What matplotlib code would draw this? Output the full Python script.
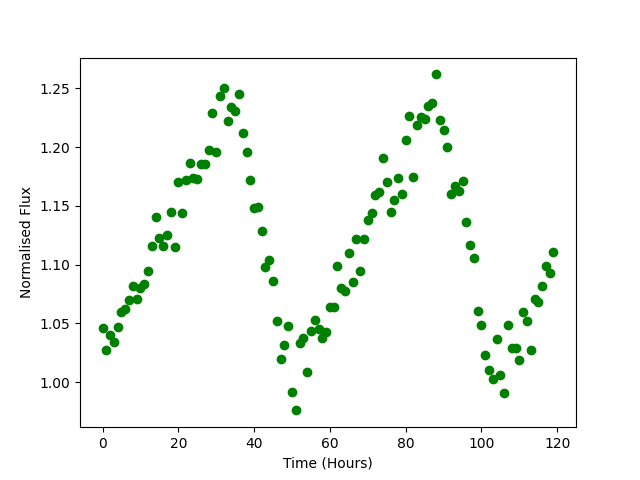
import numpy as np
import matplotlib
matplotlib.use("Agg")
import matplotlib.pyplot as plt

# hourly samples
time_hours = np.arange(120)

flux = [
    1.046, 1.027, 1.040, 1.034, 1.047, 1.060, 1.062, 1.070, 1.082, 1.071,
    1.080, 1.084, 1.095, 1.116, 1.141, 1.123, 1.116, 1.125, 1.145, 1.115,
    1.170, 1.144, 1.172, 1.187, 1.174, 1.173, 1.186, 1.186, 1.198, 1.229,
    1.196, 1.244, 1.250, 1.222, 1.234, 1.231, 1.245, 1.212, 1.196, 1.172,
    1.148, 1.149, 1.129, 1.098, 1.104, 1.086, 1.052, 1.020, 1.032, 1.048,
    0.992, 0.976, 1.033, 1.038, 1.009, 1.044, 1.053, 1.045, 1.038, 1.043,
    1.064, 1.064, 1.099, 1.080, 1.078, 1.110, 1.085, 1.122, 1.095, 1.122,
    1.138, 1.144, 1.159, 1.162, 1.191, 1.170, 1.145, 1.155, 1.174, 1.160,
    1.206, 1.227, 1.175, 1.219, 1.226, 1.224, 1.235, 1.238, 1.262, 1.223,
    1.215, 1.200, 1.160, 1.167, 1.163, 1.171, 1.136, 1.117, 1.106, 1.061,
    1.049, 1.023, 1.010, 1.003, 1.037, 1.006, 0.991, 1.049, 1.029, 1.029,
    1.019, 1.060, 1.052, 1.027, 1.071, 1.068, 1.082, 1.099, 1.093, 1.111,
]

plt.figure(figsize=(6.4, 4.8), dpi=100)
plt.plot(time_hours, flux, 'go')
plt.xlabel("Time (Hours)")
plt.ylabel("Normalised Flux")
plt.savefig("out.png")
